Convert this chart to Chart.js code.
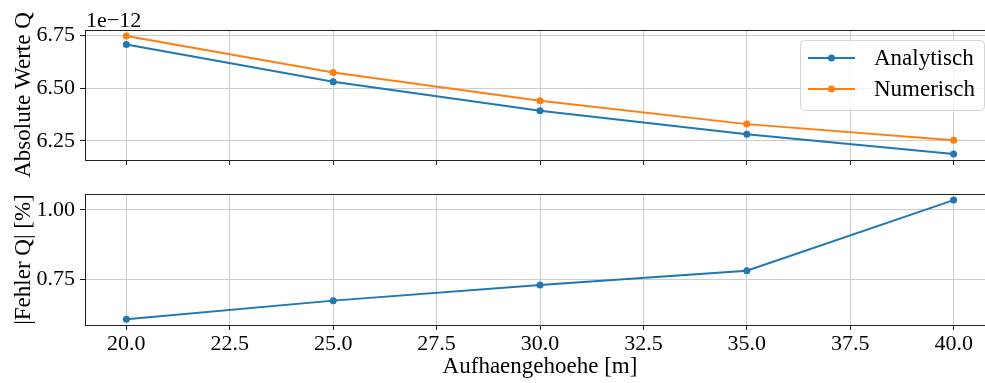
<!DOCTYPE html>
<html>
<head>
<meta charset="utf-8">
<script src="https://cdn.jsdelivr.net/npm/chart.js@4"></script>
<style>
  html, body { margin: 0; padding: 0; background: #fff; overflow: hidden; }
  #wrap { position: relative; width: 985px; height: 383px; overflow: hidden; }
  .pane { position: absolute; left: 0; }
</style>
</head>
<body>
<div id="wrap">
  <div class="pane" style="top:0"><canvas id="topChart" width="1000" height="180"></canvas></div>
  <div class="pane" style="top:180px"><canvas id="bottomChart" width="1000" height="203"></canvas></div>
</div>
<script>
// Aufhaengehoehe [m]
const heights = [20, 25, 30, 35, 40];
// absolute Q values, in units of 1e-12
const analytisch = [6.706, 6.530, 6.392, 6.281, 6.187];
const numerisch = [6.747, 6.574, 6.440, 6.329, 6.253];
// |Fehler Q| in %
const fehler = [0.605, 0.672, 0.728, 0.780, 1.035];

const xTicks = [20, 22.5, 25, 27.5, 30, 32.5, 35, 37.5, 40];
const topTicks = [6.25, 6.50, 6.75];
const bottomTicks = [0.75, 1.00];

const FONT = "'Liberation Serif', 'Times New Roman', serif";
const BLUE = '#1f77b4';
const ORANGE = '#ff7f0e';
const GRID = '#cccccc';
const AXIS = '#222222';

Chart.defaults.font.family = FONT;
Chart.defaults.font.size = 22;
Chart.defaults.color = '#000';

// top and right spines, like matplotlib
const frame = {
  id: 'frame',
  afterDraw(chart) {
    const a = chart.chartArea, ctx = chart.ctx;
    const top = Math.round(a.top) + 0.5;
    ctx.save();
    ctx.strokeStyle = AXIS;
    ctx.lineWidth = 1;
    ctx.beginPath();
    ctx.moveTo(a.left, top);
    ctx.lineTo(a.right, top);
    ctx.lineTo(a.right, a.bottom);
    ctx.stroke();
    ctx.restore();
  }
};

// "1e−12" offset text above the top axis
const offsetText = {
  id: 'offsetText',
  afterDraw(chart) {
    const ctx = chart.ctx, a = chart.chartArea;
    ctx.save();
    ctx.font = '22px ' + FONT;
    ctx.fillStyle = '#000';
    ctx.textBaseline = 'alphabetic';
    ctx.textAlign = 'left';
    ctx.fillText('1e\u221212', a.left + 1, a.top - 3);
    ctx.restore();
  }
};

// matplotlib style legend box
const mplLegend = {
  id: 'mplLegend',
  afterDraw(chart) {
    const ctx = chart.ctx, a = chart.chartArea;
    const sets = chart.data.datasets;
    ctx.save();
    ctx.font = '23px ' + FONT;
    let tw = 0;
    sets.forEach(d => { tw = Math.max(tw, ctx.measureText(d.label).width); });
    const w = Math.round(8 + 47 + 18 + tw + 10);
    const h = 70;
    const right = Math.round(a.right - 11);
    const left = right - w;
    const top = Math.round(a.top + 10);
    ctx.fillStyle = 'rgba(255,255,255,0.8)';
    ctx.strokeStyle = '#d4d4d4';
    ctx.lineWidth = 1;
    ctx.beginPath();
    ctx.roundRect(left + 0.5, top + 0.5, w, h, 4);
    ctx.fill();
    ctx.stroke();
    sets.forEach((d, i) => {
      const y = top + 18 + i * 31;
      ctx.strokeStyle = d.borderColor;
      ctx.lineWidth = 2;
      ctx.beginPath();
      ctx.moveTo(left + 8, y);
      ctx.lineTo(left + 55, y);
      ctx.stroke();
      ctx.fillStyle = d.borderColor;
      ctx.beginPath();
      ctx.arc(left + 31.5, y, 3.5, 0, Math.PI * 2);
      ctx.fill();
      ctx.fillStyle = '#000';
      ctx.textBaseline = 'middle';
      ctx.fillText(d.label, left + 74, y + 1);
    });
    ctx.restore();
  }
};

function fixedTicks(values) {
  return function (scale) { scale.ticks = values.map(v => ({ value: v })); };
}

function lineSet(label, data, color) {
  return {
    label: label,
    data: data,
    borderColor: color,
    backgroundColor: color,
    borderWidth: 2,
    pointRadius: 3.5,
    pointBorderWidth: 0,
    pointBackgroundColor: color,
    tension: 0
  };
}

function xScale(showLabels, height) {
  return {
    type: 'linear',
    min: 19,
    max: 41,
    afterBuildTicks: fixedTicks(xTicks),
    afterFit(s) { s.height = height; s.paddingLeft = 0; s.paddingRight = 0; },
    grid: { color: GRID, lineWidth: 1, drawTicks: true, tickLength: 5, tickColor: AXIS },
    border: { display: true, color: AXIS, width: 1 },
    ticks: {
      display: showLabels,
      padding: 1,
      maxRotation: 0,
      autoSkip: false,
      callback: v => v.toFixed(1)
    },
    title: {
      display: showLabels,
      text: 'Aufhaengehoehe [m]',
      padding: { top: 0, bottom: 2 },
      font: { size: 23 }
    }
  };
}

function yScale(min, max, ticks, title) {
  return {
    min: min,
    max: max,
    afterBuildTicks: fixedTicks(ticks),
    afterFit(s) { s.width = 85; s.paddingTop = 0; s.paddingBottom = 0; },
    grid: { color: GRID, lineWidth: 1, drawTicks: true, tickLength: 5, tickColor: AXIS },
    border: { display: true, color: AXIS, width: 1 },
    ticks: { padding: 5, callback: v => v.toFixed(2) },
    title: { display: true, text: title, padding: { top: 10, bottom: 0 }, font: { size: 23 } }
  };
}

const common = {
  responsive: false,
  animation: false,
  devicePixelRatio: 1,
  events: [],
  plugins: { legend: { display: false }, tooltip: { enabled: false } }
};

new Chart(document.getElementById('topChart'), {
  type: 'line',
  data: {
    datasets: [
      lineSet('Analytisch', heights.map((x, i) => ({ x: x, y: analytisch[i] })), BLUE),
      lineSet('Numerisch', heights.map((x, i) => ({ x: x, y: numerisch[i] })), ORANGE)
    ]
  },
  options: Object.assign({}, common, {
    layout: { padding: { top: 30, right: 5, left: 0, bottom: 0 } },
    scales: {
      x: xScale(false, 20),
      y: yScale(6.159, 6.775, topTicks, 'Absolute Werte Q')
    }
  }),
  plugins: [frame, offsetText, mplLegend]
});

new Chart(document.getElementById('bottomChart'), {
  type: 'line',
  data: {
    datasets: [
      lineSet('|Fehler Q|', heights.map((x, i) => ({ x: x, y: fehler[i] })), BLUE)
    ]
  },
  options: Object.assign({}, common, {
    layout: { padding: { top: 14, right: 5, left: 0, bottom: 0 } },
    scales: {
      x: xScale(true, 58),
      y: yScale(0.584, 1.057, bottomTicks, '|Fehler Q| [%]')
    }
  }),
  plugins: [frame]
});
</script>
</body>
</html>
